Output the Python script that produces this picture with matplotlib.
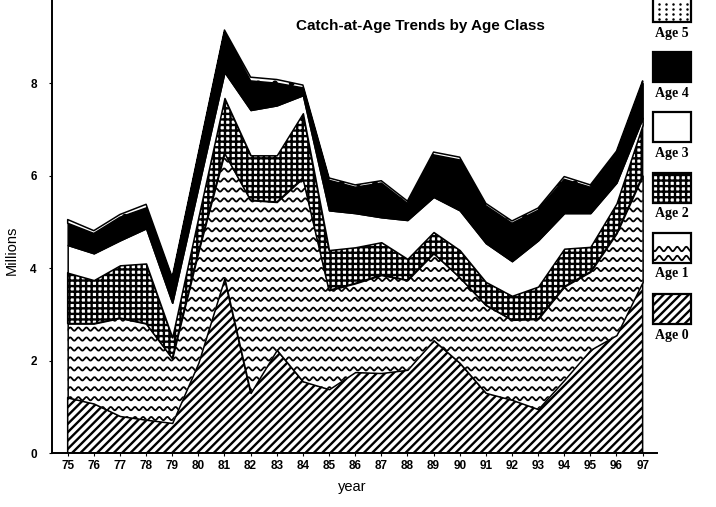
"""Catch-at-age stacked area chart, black and white with fill patterns."""

import matplotlib

matplotlib.use("Agg")
import matplotlib.pyplot as plt
import numpy as np
from matplotlib.patches import Rectangle

# datos (millones de peces por clase de edad)
years = list(range(75, 98))
year_labels = [str(y) for y in years]
y_ticks = [0, 2, 4, 6, 8]

age0 = [1.20, 1.07, 0.80, 0.72, 0.65, 1.95, 3.78, 1.30, 2.23, 1.55, 1.38, 1.75,
        1.73, 1.80, 2.44, 1.95, 1.30, 1.15, 0.95, 1.58, 2.23, 2.55, 3.70]
age1 = [1.60, 1.73, 2.12, 2.08, 1.40, 2.40, 2.71, 4.17, 3.20, 4.40, 2.14, 1.92,
        2.12, 1.94, 1.88, 1.85, 1.90, 1.73, 1.95, 2.02, 1.69, 2.20, 2.30]
age2 = [1.10, 0.94, 1.14, 1.30, 0.45, 0.75, 1.19, 0.97, 1.01, 1.40, 0.87, 0.78,
        0.71, 0.46, 0.46, 0.59, 0.50, 0.52, 0.70, 0.82, 0.54, 0.65, 1.10]
age3 = [0.60, 0.58, 0.54, 0.76, 0.75, 0.65, 0.56, 0.98, 1.08, 0.39, 0.86, 0.74,
        0.54, 0.84, 0.76, 0.86, 0.84, 0.75, 1.00, 0.77, 0.73, 0.45, 0.15]
age4 = [0.47, 0.43, 0.50, 0.44, 0.50, 0.68, 0.86, 0.63, 0.48, 0.16, 0.65, 0.56,
        0.74, 0.36, 0.91, 1.09, 0.81, 0.82, 0.65, 0.73, 0.56, 0.63, 0.75]
age5 = [0.08, 0.06, 0.06, 0.08, 0.05, 0.05, 0.05, 0.08, 0.08, 0.06, 0.05, 0.05,
        0.05, 0.05, 0.06, 0.06, 0.05, 0.05, 0.05, 0.06, 0.05, 0.05, 0.05]

names = ["Age 0", "Age 1", "Age 2", "Age 3", "Age 4", "Age 5"]
faces = ["white", "white", "white", "white", "black", "white"]
hatches = ["////", None, "+++", None, None, "."]

plt.rcParams["hatch.linewidth"] = 1.7
plt.rcParams["hatch.color"] = "black"


def wavy_lines(ax, x0, x1, y0, y1, step, period, amp, clip_path, transform, lw=1.3):
    """Textura ondulada (no hay hatch ondulado en matplotlib)."""
    xs = np.linspace(x0, x1, 1200)
    for yb in np.arange(y0, y1, step):
        (ln,) = ax.plot(xs, yb + amp * np.sin(2 * np.pi * xs / period),
                        color="black", lw=lw, transform=transform, zorder=3)
        ln.set_clip_path(clip_path, transform)


fig = plt.figure(figsize=(7.16, 5.07), dpi=100)
ax = fig.add_axes([52 / 716, 54 / 507, (657 - 52) / 716, 453 / 507])

bottom = np.zeros(len(years))
polys = []
for vals, face, hatch in zip([age0, age1, age2, age3, age4, age5], faces, hatches):
    top = bottom + np.asarray(vals)
    p = ax.fill_between(years, bottom, top, facecolor=face, edgecolor="black",
                        hatch=hatch, linewidth=1.1, zorder=2)
    polys.append(p)
    bottom = top

ax.set_xlim(74.4, 97.55)
ax.set_ylim(0, 9.8)

# ondas de la clase Age 1 recortadas a su area
wavy_lines(ax, 74.4, 97.6, 0.1, 9.0, 0.215, 0.31, 0.035,
           polys[1].get_paths()[0], ax.transData)

ax.spines["top"].set_visible(False)
ax.spines["right"].set_visible(False)
ax.spines["left"].set_linewidth(1.4)
ax.spines["bottom"].set_linewidth(1.4)
ax.set_xticks(years, labels=year_labels)
ax.set_yticks(y_ticks, labels=[str(t) for t in y_ticks])
ax.tick_params(axis="x", length=2, pad=3, labelsize=8.5)
ax.tick_params(axis="y", length=2, pad=9, labelsize=8.5)
for lab in ax.get_xticklabels() + ax.get_yticklabels():
    lab.set_fontfamily("Liberation Sans")
    lab.set_fontweight("bold")

fig.text(420 / 716, 1 - 26 / 507, "Catch-at-Age Trends by Age Class",
         ha="center", va="center", fontsize=11, fontweight="bold",
         family="Liberation Sans")
fig.text(12 / 716, 1 - 250 / 507, "Millions", rotation=90, ha="center",
         va="center", fontsize=10.5, family="Liberation Sans")
fig.text(352 / 716, 1 - 487 / 507, "year", ha="center", va="center",
         fontsize=10.5, family="Liberation Sans")

# leyenda a mano: caja con el patron y etiqueta debajo
lax = fig.add_axes([0, 0, 1, 1])
lax.set_xlim(0, 716)
lax.set_ylim(507, 0)
lax.set_facecolor("none")
lax.axis("off")
box_tops = [294, 233, 173, 112, 52, -8]
for name, face, hatch, y_top in zip(names, faces, hatches, box_tops):
    legend_hatch = None if name == "Age 5" else hatch
    rect = Rectangle((653, y_top), 38, 30, facecolor=face, edgecolor="black",
                     hatch=legend_hatch, linewidth=1.6)
    lax.add_patch(rect)
    if name == "Age 1":
        wavy_lines(lax, 653, 691, y_top + 7, y_top + 30, 9, 9, 2.2,
                   rect, None, lw=1.3)
    if name == "Age 5":
        # punteado fino y disperso
        gx, gy = np.meshgrid(np.arange(659, 690, 7), np.arange(y_top + 12, y_top + 29, 5))
        lax.plot(gx.ravel(), gy.ravel(), ".", color="black", ms=1.6)
    lax.text(672, y_top + 41, name, ha="center", va="center", fontsize=10,
             fontweight="bold", family="Liberation Serif")

fig.savefig("out.png", dpi=100)
plt.close(fig)
